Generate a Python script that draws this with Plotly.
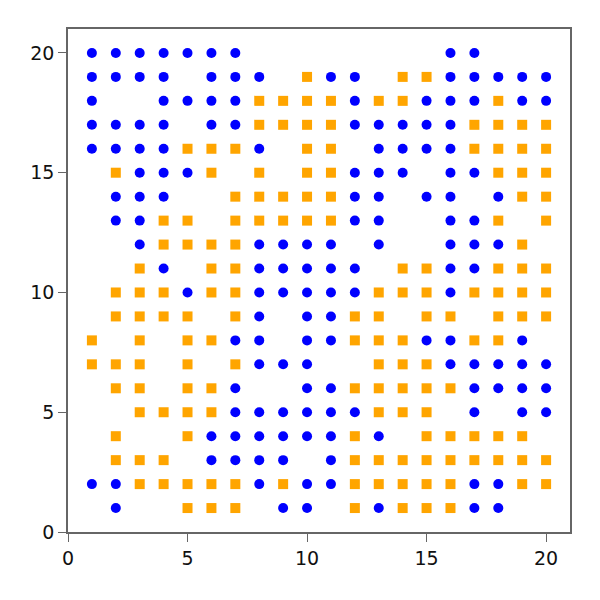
import plotly.graph_objects as go

# Grid of cells, top row is y=20, bottom row y=1; columns x=1..20
# B = blue circle, O = orange square, . = empty
rows_y = list(range(20, 0, -1))
grid_rows = [
    "BBBBBBB........BB...",
    "BBBB.BBB.OBB.OOBBBBB",
    "B..BBBBOOOOBOOBBBOBB",
    "BBBB.BBOOOOBBBBBOOOO",
    "BBBBOOOB.OO.BBBBOOOO",
    ".OBBBO.O.OOBBB.BBOOO",
    ".BBB..OOOOOBB.BB.BOO",
    ".BBOO.OOOOOBB..BBO.O",
    "..BOOOOBBBB.B..BBBO.",
    "..OB.OOBBBBB.OOBBOOO",
    ".OOOBOOBBBBBOOOBOOOO",
    ".OOOO.OB.BBOO.OO.OOO",
    "O.O.OOBB.BBOOOBBOOB.",
    "OOO.O.OBBB..OOOBBBBB",
    ".OO.OOB..BBOOOOOBBBB",
    "..OOOOBBBBBBOOO.B.BB",
    ".O..OBBBBBBOB.OOOOO.",
    ".OOO.BBBB.BOOOOOOOOO",
    "BBOOOOOBOBBOOOOOBBOO",
    ".B..OOO.BB.OBOOOBB..",
]
cols_x = list(range(1, 21))
x_ticks = [0, 5, 10, 15, 20]
y_ticks = [0, 5, 10, 15, 20]

blue_x, blue_y, orange_x, orange_y = [], [], [], []
for yv, row in zip(rows_y, grid_rows):
    for xv, ch in zip(cols_x, row):
        if ch == "B":
            blue_x.append(xv); blue_y.append(yv)
        elif ch == "O":
            orange_x.append(xv); orange_y.append(yv)

fig = go.Figure()
fig.add_trace(go.Scatter(x=blue_x, y=blue_y, mode="markers",
                         marker=dict(symbol="circle", size=10, color="#0000ff", line=dict(width=0)),
                         showlegend=False))
fig.add_trace(go.Scatter(x=orange_x, y=orange_y, mode="markers",
                         marker=dict(symbol="square", size=10, color="#ffa500", line=dict(width=0)),
                         showlegend=False))

axis_common = dict(range=[0, 21], showgrid=False, zeroline=False, showline=True,
                   linecolor="#666666", linewidth=1.5, mirror=True,
                   ticks="outside", ticklen=8, tickcolor="#666666", tickwidth=1.2,
                   tickfont=dict(family="DejaVu Sans", size=19, color="#111111"))
fig.update_xaxes(tickvals=x_ticks, **axis_common)
fig.update_yaxes(tickvals=y_ticks, **axis_common)
fig.update_layout(width=600, height=600, margin=dict(l=60, r=38, t=21, b=76),
                  plot_bgcolor="white", paper_bgcolor="white")
fig.write_html("out.html")
